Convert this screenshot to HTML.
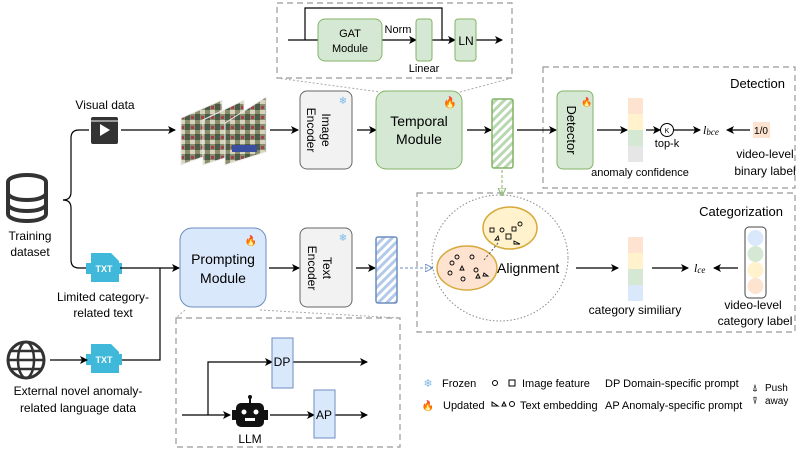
<!DOCTYPE html>
<html><head><meta charset="utf-8"><style>
body{margin:0;background:#fff;width:800px;height:450px;overflow:hidden}
svg{font-family:"Liberation Sans",sans-serif}
</style></head><body>
<svg width="800" height="450" viewBox="0 0 800 450" xmlns="http://www.w3.org/2000/svg">
<defs>
<marker id="a" markerWidth="8" markerHeight="8" refX="7" refY="4" orient="auto" markerUnits="userSpaceOnUse"><path d="M0,0 L8,4 L0,8 L2,4z" fill="#000"/></marker>
<marker id="ag" markerWidth="8" markerHeight="8" refX="7" refY="4" orient="auto" markerUnits="userSpaceOnUse"><path d="M0,0 L8,4 L0,8z" fill="none" stroke="#82b366"/></marker>
<marker id="ab" markerWidth="8" markerHeight="8" refX="7" refY="4" orient="auto" markerUnits="userSpaceOnUse"><path d="M0,0 L8,4 L0,8z" fill="none" stroke="#6c8ebf"/></marker>
<pattern id="hg" width="6" height="6" patternUnits="userSpaceOnUse" patternTransform="rotate(45)"><rect width="6" height="6" fill="#fff"/><rect width="3" height="6" fill="#b9d7b0"/></pattern>
<pattern id="hb" width="6" height="6" patternUnits="userSpaceOnUse" patternTransform="rotate(45)"><rect width="6" height="6" fill="#fff"/><rect width="3" height="6" fill="#b3c9ea"/></pattern>
<pattern id="fr" width="10" height="10" patternUnits="userSpaceOnUse"><rect width="10" height="10" fill="#8a8f6a"/><rect x="0" y="0" width="5" height="4" fill="#d8d3c0"/><rect x="5" y="4" width="5" height="6" fill="#4c5a4a"/><rect x="1" y="6" width="3" height="3" fill="#a04050"/></pattern>
</defs>
<g fill="none" stroke="#999" stroke-dasharray="6,4" stroke-width="1.2">
<rect x="277" y="3" width="235" height="75"/>
<rect x="543" y="67" width="252" height="121"/>
<rect x="417" y="193" width="378" height="139"/>
<rect x="176" y="318" width="224" height="129"/>
</g>
<g stroke="#aaa" stroke-dasharray="2,2" fill="none">
<path d="M277,78 L380,92 M512,78 L460,92 M185,310 L176,318 M260,310 L400,318"/>
</g>
<g stroke="#000" fill="none" stroke-width="1.2">
<path d="M288,40 H318 M382,40 H416" marker-end="url(#a)"/>
<path d="M305,40 V8 H442 V40 H455" marker-end="url(#a)"/>
<path d="M432,40 H455"/>
<path d="M476,40 H502" marker-end="url(#a)"/>
</g>
<rect x="318" y="19" width="64" height="42" rx="7" fill="#d5e8d4" stroke="#82b366"/>
<text x="350" y="37" font-size="11" text-anchor="middle">GAT</text><text x="350" y="52" font-size="11" text-anchor="middle">Module</text>
<text x="398" y="33" font-size="11" text-anchor="middle">Norm</text>
<rect x="416" y="19" width="16" height="42" rx="3" fill="#d5e8d4" stroke="#82b366"/>
<text x="424" y="72" font-size="11" text-anchor="middle">Linear</text>
<rect x="455" y="19" width="21" height="42" rx="3" fill="#d5e8d4" stroke="#82b366"/>
<text x="466" y="45" font-size="12" text-anchor="middle">LN</text>
<text x="105" y="109" font-size="12" text-anchor="middle">Visual data</text>
<rect x="91" y="117" width="27" height="27" rx="2" fill="#333"/>
<path d="M100,124 L110,130 L100,136z" fill="#fff"/>
<line x1="91" y1="121" x2="118" y2="121" stroke="#fff" stroke-width="1"/>
<g stroke="#000" stroke-width="1.2" fill="none">
<path d="M121,130 H175" marker-end="url(#a)"/>
<path d="M270,130 H298" marker-end="url(#a)"/>
<path d="M357,130 H376" marker-end="url(#a)"/>
<path d="M467,130 H491" marker-end="url(#a)"/>
<path d="M517,130 H556" marker-end="url(#a)"/>
<path d="M597,130 H627" marker-end="url(#a)"/>
<path d="M646,130 H660" marker-end="url(#a)"/>
<path d="M673,130 H700" marker-end="url(#a)"/>
<path d="M750,130 H727" marker-end="url(#a)"/>
</g>
<g stroke="#eee" stroke-width="1">
<polygon points="181,118 222,100 222,150 181,165" fill="url(#fr)"/>
<polygon points="203,120 244,100 244,152 203,165" fill="url(#fr)"/>
<polygon points="225,123 266,97 266,152 225,165" fill="url(#fr)"/>
<rect x="232" y="145" width="25" height="7" fill="#3b4fa0" stroke="none"/>
</g>
<rect x="300" y="91" width="52" height="78" rx="7" fill="#f2f2f2" stroke="#666"/>
<text transform="translate(322,130) rotate(90)" font-size="12" text-anchor="middle">Image</text>
<text transform="translate(307,130) rotate(90)" font-size="12" text-anchor="middle">Encoder</text>
<text x="343" y="104" font-size="10" fill="#7ab8e8" text-anchor="middle">❄</text>
<rect x="376" y="91" width="86" height="78" rx="10" fill="#d5e8d4" stroke="#82b366"/>
<text x="419" y="126" font-size="14" text-anchor="middle">Temporal</text><text x="419" y="144" font-size="14" text-anchor="middle">Module</text>
<text x="450" y="106" font-size="11" fill="#e8562a" text-anchor="middle">🔥</text>
<rect x="492" y="99" width="21" height="69" rx="2" fill="url(#hg)" stroke="#82b366" stroke-width="1.5"/>
<path d="M502,170 V195" stroke="#82b366" stroke-dasharray="3,2" marker-end="url(#ag)"/>
<text x="785" y="88" font-size="13" text-anchor="end">Detection</text>
<rect x="557" y="91" width="36" height="78" rx="6" fill="#d5e8d4" stroke="#82b366"/>
<text transform="translate(567,130) rotate(90)" font-size="13" text-anchor="middle">Detector</text>
<text x="587" y="105" font-size="9" text-anchor="middle">🔥</text>
<rect x="628" y="98" width="15" height="16" fill="#fde3d0"/><rect x="628" y="114" width="15" height="16" fill="#fff2cc"/><rect x="628" y="130" width="15" height="16" fill="#d5e8d4"/><rect x="628" y="146" width="15" height="16" fill="#e6e6e6"/>
<text x="640" y="176" font-size="11" text-anchor="middle">anomaly confidence</text>
<circle cx="667" cy="130" r="6.5" fill="#fff" stroke="#000"/><text x="667" y="133" font-size="7" text-anchor="middle">K</text>
<text x="667" y="147" font-size="11" text-anchor="middle">top-k</text>
<text x="703" y="134" font-size="12" font-style="italic" font-family="Liberation Serif,serif">l<tspan font-size="9" dy="1">bce</tspan></text>
<rect x="753" y="122" width="17" height="16" fill="#fde3d0"/><text x="761" y="134" font-size="10" text-anchor="middle">1/0</text>
<text x="765" y="158" font-size="12" text-anchor="middle">video-level</text><text x="765" y="175" font-size="12" text-anchor="middle">binary label</text>
<text x="783" y="216" font-size="13" text-anchor="end">Categorization</text>
<ellipse cx="500" cy="258" rx="68" ry="63" fill="none" stroke="#888" stroke-dasharray="1.5,2"/>
<ellipse cx="510" cy="228" rx="27" ry="21" fill="#fff2cc" stroke="#d6a93a" stroke-width="1.5"/>
<ellipse cx="467" cy="268" rx="30" ry="22" fill="#fde3d0" stroke="#d6a93a" stroke-width="1.5"/>
<g fill="none" stroke="#000" stroke-width="0.9">
<rect x="490" y="228" width="4" height="4"/><rect x="506" y="234" width="5" height="5"/><rect x="512" y="227" width="4" height="4"/><circle cx="502" cy="230" r="2"/><circle cx="520" cy="224" r="2"/><path d="M514,241 l6,3 h-6z"/><path d="M495,240 l3,-4 l1,4z"/>
<circle cx="457" cy="257" r="2"/><circle cx="472" cy="257" r="2"/><circle cx="450" cy="273" r="2"/><circle cx="463" cy="279" r="2"/><circle cx="476" cy="270" r="2"/><circle cx="452" cy="263" r="2"/><path d="M460,270 l2,-4 l2,4z"/><path d="M476,278 l2,-4 l2,4z"/><path d="M484,273 l4,3 h-5z"/>
</g>
<path d="M498,243 L484,260" stroke="#555" stroke-dasharray="2,2"/>
<text x="497" y="273" font-size="14">Alignment</text>
<g stroke="#000" stroke-width="1.2" fill="none">
<path d="M576,268 H618" marker-end="url(#a)"/>
<path d="M652,268 H688" marker-end="url(#a)"/>
<path d="M738,268 H714" marker-end="url(#a)"/>
</g>
<rect x="628" y="237" width="15" height="16" fill="#fde3d0"/><rect x="628" y="253" width="15" height="16" fill="#fff2cc"/><rect x="628" y="269" width="15" height="16" fill="#d5e8d4"/><rect x="628" y="285" width="15" height="16" fill="#dae8fc"/>
<text x="635" y="314" font-size="12" text-anchor="middle">category similiary</text>
<text x="694" y="272" font-size="12" font-style="italic" font-family="Liberation Serif,serif">l<tspan font-size="9" dy="1">ce</tspan></text>
<rect x="745" y="227" width="21" height="71" rx="4" fill="#fff" stroke="#444"/>
<circle cx="755.5" cy="238" r="8" fill="#dae8fc"/><circle cx="755.5" cy="254" r="8" fill="#d5e8d4"/><circle cx="755.5" cy="270" r="8" fill="#fff2cc"/><circle cx="755.5" cy="286" r="8" fill="#fde3d0"/>
<text x="753" y="309" font-size="12" text-anchor="middle">video-level</text><text x="755" y="325" font-size="12" text-anchor="middle">category label</text>
<g fill="#fff" stroke="#333" stroke-width="4">
<ellipse cx="27" cy="182" rx="19" ry="7"/>
<path d="M8,182 V214 a19,7 0 0 0 38,0 V182"/>
<path d="M8,193 a19,7 0 0 0 38,0 M8,204 a19,7 0 0 0 38,0" fill="none"/>
</g>
<text x="30" y="240" font-size="12" text-anchor="middle">Training</text><text x="30" y="256" font-size="12" text-anchor="middle">dataset</text>
<path d="M63,200 q8,0 8,-8 V138 q0,-8 8,-8 H89 M71,208 V260 q0,8 8,8 H88" stroke="#000" stroke-width="1.2" fill="none"/>
<path d="M63,200 q8,0 8,8" stroke="#000" stroke-width="1.2" fill="none"/>
<g>
<path d="M91,253 H111 L119,261 V282 H91z" fill="#3fb8d9"/><rect x="86" y="263" width="36" height="11" fill="#3fb8d9"/><text x="104" y="272" font-size="9" fill="#fff" font-weight="bold" text-anchor="middle">TXT</text>
<path d="M91,344 H111 L119,352 V373 H91z" fill="#3fb8d9"/><rect x="86" y="354" width="36" height="11" fill="#3fb8d9"/><text x="104" y="363" font-size="9" fill="#fff" font-weight="bold" text-anchor="middle">TXT</text>
</g>
<text x="103" y="301" font-size="12" text-anchor="middle">Limited category-</text><text x="103" y="317" font-size="12" text-anchor="middle">related text</text>
<circle cx="26" cy="360" r="18" fill="none" stroke="#333" stroke-width="3"/>
<ellipse cx="26" cy="360" rx="8" ry="18" fill="none" stroke="#333" stroke-width="2.5"/>
<path d="M8,360 H44 M11,351 H41 M11,369 H41" stroke="#333" stroke-width="2.5"/>
<text x="78" y="395" font-size="12" text-anchor="middle">External novel anomaly-</text><text x="78" y="412" font-size="12" text-anchor="middle">related language data</text>
<g stroke="#000" stroke-width="1.2" fill="none">
<path d="M120,268 H179" marker-end="url(#a)"/>
<path d="M122,360 H160 V268"/>
<path d="M50,360 H87" marker-end="url(#a)"/>
<path d="M269,268 H299" marker-end="url(#a)"/>
<path d="M356,268 H375" marker-end="url(#a)"/>
</g>
<rect x="180" y="228" width="86" height="79" rx="12" fill="#dae8fc" stroke="#6c8ebf"/>
<text x="223" y="264" font-size="14" text-anchor="middle">Prompting</text><text x="223" y="283" font-size="14" text-anchor="middle">Module</text>
<text x="251" y="244" font-size="10" text-anchor="middle">🔥</text>
<rect x="300" y="228" width="52" height="79" rx="7" fill="#f2f2f2" stroke="#666"/>
<text transform="translate(323,268) rotate(90)" font-size="12" text-anchor="middle">Text</text>
<text transform="translate(308,268) rotate(90)" font-size="12" text-anchor="middle">Encoder</text>
<text x="343" y="241" font-size="10" fill="#7ab8e8" text-anchor="middle">❄</text>
<rect x="376" y="237" width="21" height="66" rx="2" fill="url(#hb)" stroke="#6c8ebf" stroke-width="1.5"/>
<path d="M400,268 H432" stroke="#6c8ebf" stroke-dasharray="3,2" marker-end="url(#ab)"/>
<g stroke="#000" stroke-width="1.2" fill="none">
<path d="M182,415 H230" marker-end="url(#a)"/>
<path d="M208,415 V362 H272" marker-end="url(#a)"/>
<path d="M293,362 H367" marker-end="url(#a)"/>
<path d="M270,415 H314" marker-end="url(#a)"/>
<path d="M335,415 H367" marker-end="url(#a)"/>
</g>
<rect x="272" y="338" width="21" height="50" fill="#dae8fc" stroke="#6c8ebf"/><text x="282" y="366" font-size="12" text-anchor="middle">DP</text>
<rect x="314" y="390" width="21" height="48" fill="#dae8fc" stroke="#6c8ebf"/><text x="324" y="419" font-size="12" text-anchor="middle">AP</text>
<rect x="236" y="403" width="28" height="24" rx="5" fill="#111"/><rect x="232" y="410" width="4" height="10" fill="#111"/><rect x="264" y="410" width="4" height="10" fill="#111"/>
<line x1="250" y1="403" x2="250" y2="398" stroke="#111" stroke-width="2"/><circle cx="250" cy="397" r="2" fill="#111"/>
<circle cx="244" cy="412" r="2.5" fill="#fff"/><circle cx="256" cy="412" r="2.5" fill="#fff"/><rect x="245" y="418" width="10" height="3" fill="#fff"/>
<text x="250" y="443" font-size="12" text-anchor="middle">LLM</text>
<text x="428" y="387" font-size="11" fill="#7ab8e8" text-anchor="middle">❄</text><text x="442" y="387" font-size="11">Frozen</text>
<text x="428" y="409" font-size="10" text-anchor="middle">🔥</text><text x="443" y="409" font-size="11">Updated</text>
<circle cx="495" cy="383" r="2.5" fill="none" stroke="#000"/><rect x="509" y="380" width="6" height="6" fill="none" stroke="#000"/>
<text x="522" y="387" font-size="11">Image feature</text>
<path d="M492,402 l6,4 h-6z M502,406 l2,-4 l2,4z" fill="none" stroke="#000"/><circle cx="512" cy="404" r="2.5" fill="none" stroke="#000"/>
<text x="520" y="409" font-size="11">Text embedding</text>
<text x="605" y="387" font-size="11">DP  Domain-specific prompt</text>
<text x="605" y="409" font-size="11">AP  Anomaly-specific prompt</text>
<text x="755" y="391" font-size="10" text-anchor="middle">⍋</text><text x="765" y="391" font-size="10">Push</text>
<text x="755" y="404" font-size="10" text-anchor="middle">⍒</text><text x="765" y="404" font-size="10">away</text>
</svg>
</body></html>
